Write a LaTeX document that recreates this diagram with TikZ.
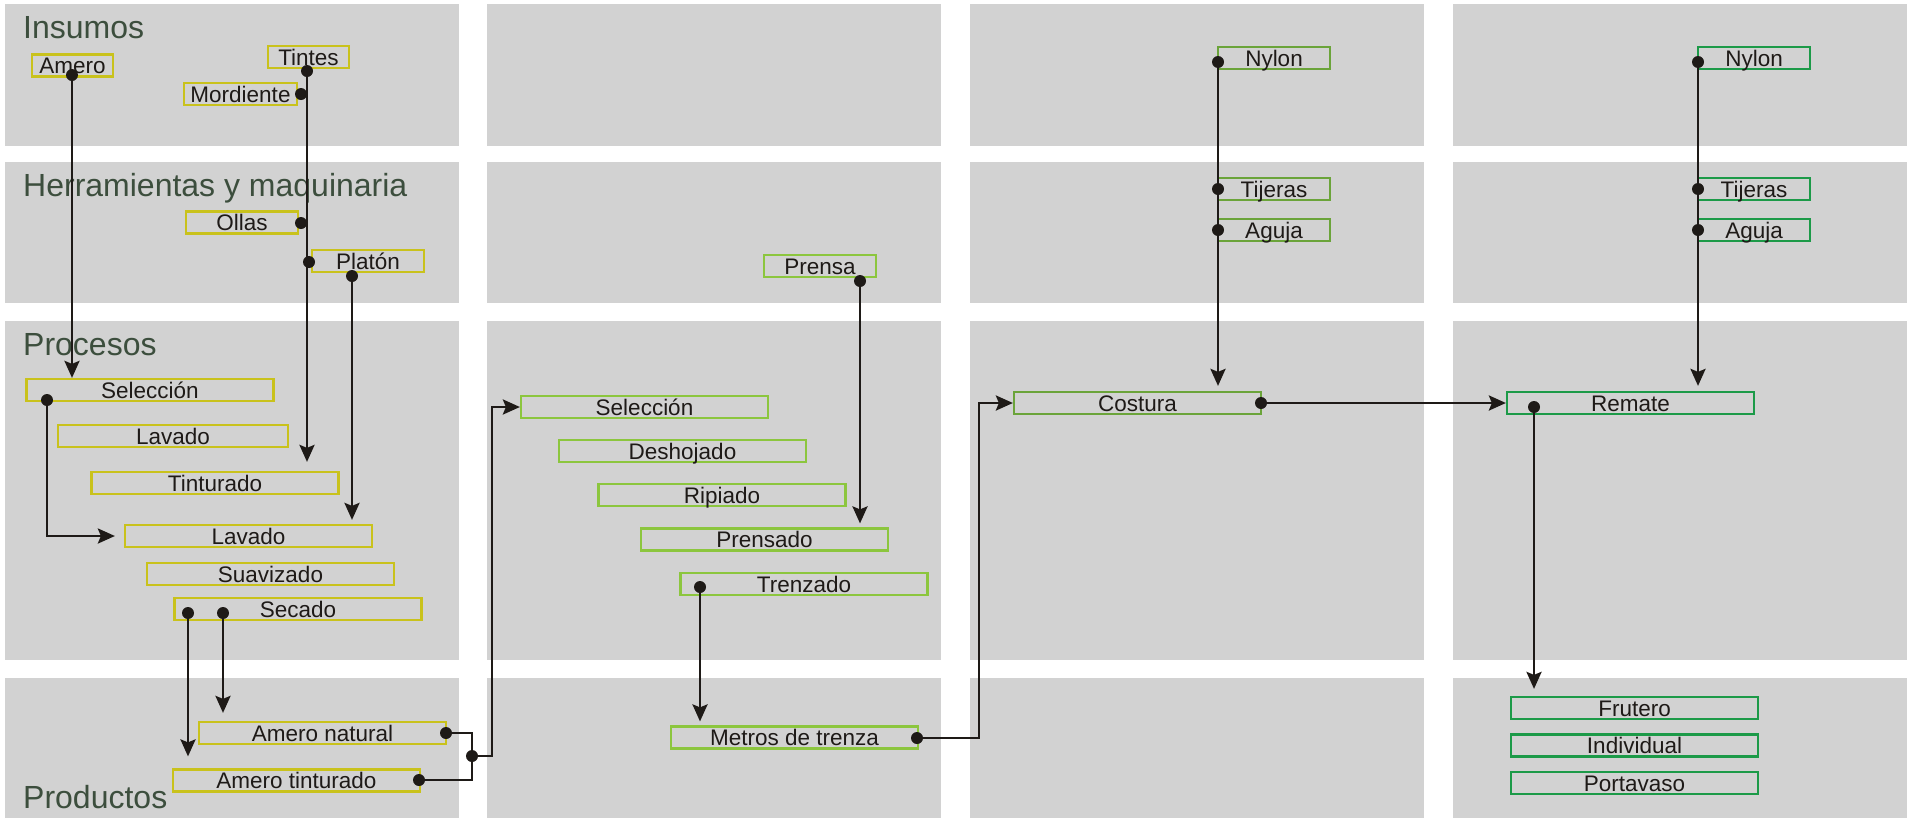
\documentclass[tikz,border=0pt]{standalone}
\usepackage{fontspec}
\setmainfont{Liberation Sans}
\usetikzlibrary{arrows.meta,calc}
\definecolor{panelgris}{RGB}{210,210,210}
\definecolor{tituloverde}{RGB}{60,78,61}
\definecolor{amarillo}{RGB}{201,194,28}
\definecolor{verdeclaro}{RGB}{140,198,62}
\definecolor{verdemedio}{RGB}{107,164,58}
\definecolor{verdeoscuro}{RGB}{28,154,72}
\definecolor{linea}{RGB}{30,26,23}

\begin{document}
\begin{tikzpicture}[x=1pt,y=-1pt,>={Stealth[length=17pt,width=15pt,inset=3pt]}]
        % Styles
        \tikzstyle{caja}=[draw, line width=2.2pt, inner sep=0pt, minimum width=247pt, minimum height=22pt, text height=17pt, text depth=1pt, text=linea, font=\fontsize{22.5}{24}\selectfont]
        \tikzstyle{chica}=[caja, minimum width=112pt]
        \tikzstyle{mini}=[caja, minimum width=81pt]
        \tikzstyle{point}=[circle, fill=linea, inner sep=0pt, minimum size=12pt]
        \tikzstyle{conector}=[line width=2.8pt, draw=linea]
        \tikzstyle{flecha}=[conector, ->]
        \tikzstyle{encabezado}=[anchor=base west, inner sep=0pt, text=tituloverde, font=\fontsize{32}{36}\selectfont]

        \useasboundingbox (0,0) rectangle (1908,820);

        % Gray panels
        \foreach \xa in {5,487,970,1453}
            \foreach \ya/\yb in {4/146,162/303,321/660,678/818}
                \fill[panelgris] (\xa,\ya) rectangle (\xa+454,\yb);

        % Row titles
        \node[encabezado] (tInsumos) at (23,38) {Insumos};
        \node[encabezado] (tHerramientas) at (23,196) {Herramientas y maquinaria};
        \node[encabezado] (tProcesos) at (23,355) {Procesos};
        \node[encabezado] (tProductos) at (23,808) {Productos};

        % Amero: inputs and tools
        \node[mini, draw=amarillo] (Amero) at (72.5,65.5) {Amero};
        \node[mini, draw=amarillo] (Tintes) at (308.5,57) {Tintes};
        \node[chica, draw=amarillo, minimum width=113pt] (Mordiente) at (240.5,94) {Mordiente};
        \node[chica, draw=amarillo] (Ollas) at (242,222.5) {Ollas};
        \node[chica, draw=amarillo] (Platon) at (368,261) {Platón};

        % Amero: processes and products
        \node[caja, draw=amarillo] (SelA) at (150,390) {Selección};
        \node[caja, draw=amarillo, minimum width=230pt] (LavA) at (173,436) {Lavado};
        \node[caja, draw=amarillo] (Tint) at (215,483) {Tinturado};
        \node[caja, draw=amarillo] (LavB) at (248.5,536) {Lavado};
        \node[caja, draw=amarillo] (Suav) at (270.5,574) {Suavizado};
        \node[caja, draw=amarillo] (Sec) at (298,609) {Secado};
        \node[caja, draw=amarillo] (AmNat) at (322.5,733) {Amero natural};
        \node[caja, draw=amarillo] (AmTin) at (296.5,780.5) {Amero tinturado};

        % Braid
        \node[chica, draw=verdeclaro] (Prensa) at (820,266) {Prensa};
        \node[caja, draw=verdeclaro] (SelB) at (644.5,407) {Selección};
        \node[caja, draw=verdeclaro] (Desh) at (682.5,451) {Deshojado};
        \node[caja, draw=verdeclaro] (Rip) at (722,495) {Ripiado};
        \node[caja, draw=verdeclaro] (Prensado) at (764.5,539.5) {Prensado};
        \node[caja, draw=verdeclaro] (Trenz) at (804,584) {Trenzado};
        \node[caja, draw=verdeclaro] (Metros) at (794.5,737.5) {Metros de trenza};

        % Sewing
        \node[chica, draw=verdemedio] (NylonC) at (1274,58) {Nylon};
        \node[chica, draw=verdemedio] (TijerasC) at (1274,189) {Tijeras};
        \node[chica, draw=verdemedio] (AgujaC) at (1274,230) {Aguja};
        \node[caja, draw=verdemedio] (Costura) at (1137.5,403) {Costura};

        % Finishing and final products
        \node[chica, draw=verdeoscuro] (NylonD) at (1754,58) {Nylon};
        \node[chica, draw=verdeoscuro] (TijerasD) at (1754,189) {Tijeras};
        \node[chica, draw=verdeoscuro] (AgujaD) at (1754,230) {Aguja};
        \node[caja, draw=verdeoscuro] (Remate) at (1630.5,403) {Remate};
        \node[caja, draw=verdeoscuro] (Frutero) at (1634.5,708) {Frutero};
        \node[caja, draw=verdeoscuro] (Individual) at (1634.5,745.5) {Individual};
        \node[caja, draw=verdeoscuro] (Portavaso) at (1634.5,783) {Portavaso};

        % Dots
        \node[point] (pAmero) at (72,75) {};
        \node[point] (pTintes) at (307,71) {};
        \node[point] (pMordiente) at (301,94) {};
        \node[point] (pOllas) at (301,223) {};
        \node[point] (pPlatonA) at (309,262) {};
        \node[point] (pPlatonB) at (352,276) {};
        \node[point] (pSel) at (47,400) {};
        \node[point] (pSecA) at (188,613) {};
        \node[point] (pSecB) at (223,613) {};
        \node[point] (pNatural) at (446,733) {};
        \node[point] (pTinturado) at (419,780) {};
        \node[point] (pJunta) at (472,756) {};
        \node[point] (pPrensa) at (860,281) {};
        \node[point] (pTrenzado) at (700,587) {};
        \node[point] (pMetros) at (917,738) {};
        \node[point] (pNylonC) at (1218,62) {};
        \node[point] (pTijerasC) at (1218,189) {};
        \node[point] (pAgujaC) at (1218,230) {};
        \node[point] (pCostura) at (1261,403) {};
        \node[point] (pNylonD) at (1698,62) {};
        \node[point] (pTijerasD) at (1698,189) {};
        \node[point] (pAgujaD) at (1698,230) {};
        \node[point] (pRemate) at (1534,407) {};

        % Bends
        \coordinate (codoA) at (492,756);
        \coordinate (codoB) at (979,738);

        % Connectors
        \draw[flecha] (pAmero) -- (SelA.north -| pAmero);
        \draw[flecha, shorten >=9pt] (pTintes) -- (Tint.north -| pTintes);
        \draw[flecha, shorten >=4pt] (pPlatonB) -- (LavB.north -| pPlatonB);
        \draw[flecha] (pSel) |- ([xshift=-9pt]LavB.west);
        \draw[flecha, shorten >=12pt] (pSecA) -- (AmTin.north -| pSecA);
        \draw[flecha, shorten >=8pt] (pSecB) -- (AmNat.north -| pSecB);
        \draw[conector] (pNatural) -| (pJunta) |- (pTinturado);
        \draw[flecha] (pJunta) -- (codoA) |- (SelB.west);
        \draw[flecha, shorten >=4pt] (pPrensa) -- (Prensado.north -| pPrensa);
        \draw[flecha, shorten >=4pt] (pTrenzado) -- (Metros.north -| pTrenzado);
        \draw[flecha] (pMetros) -- (codoB) |- (Costura.west);
        \draw[flecha, shorten >=5pt] (pNylonC) -- (Costura.north -| pNylonC);
        \draw[flecha] (pCostura) -- (Remate.west);
        \draw[flecha, shorten >=5pt] (pNylonD) -- (Remate.north -| pNylonD);
        \draw[flecha, shorten >=7pt] (pRemate) -- (Frutero.north -| pRemate);
\end{tikzpicture}
\end{document}
